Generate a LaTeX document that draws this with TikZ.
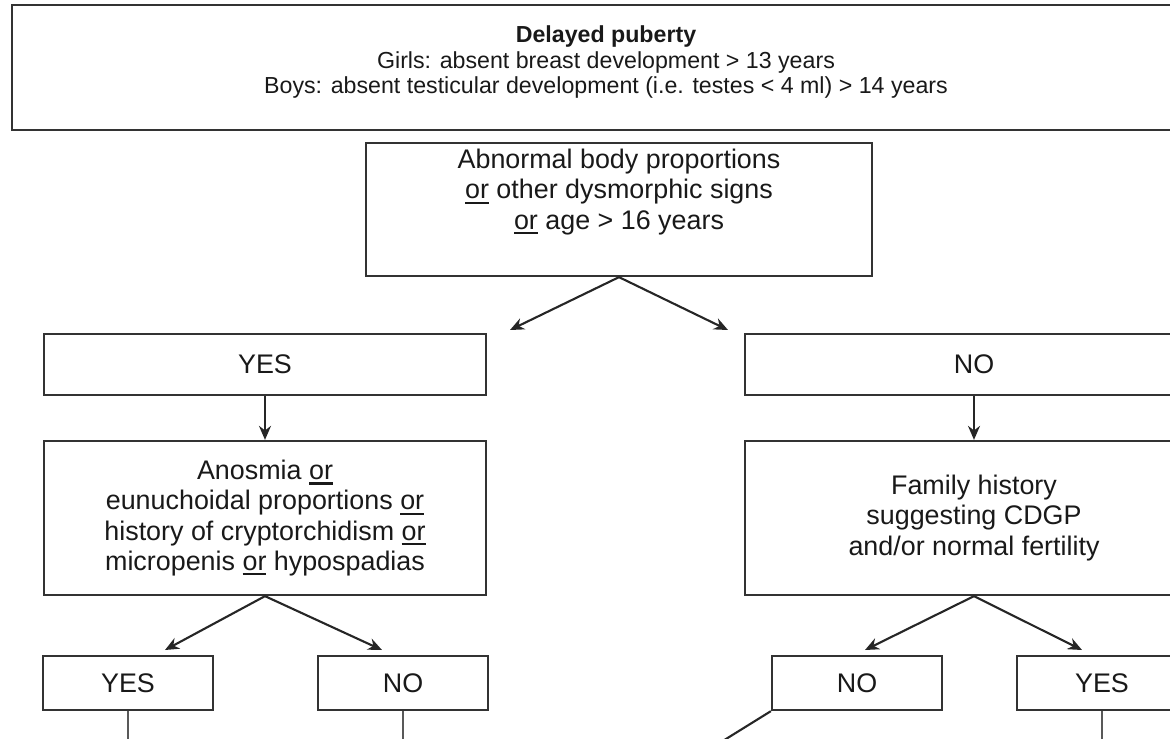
\documentclass[tikz,border=0pt]{standalone}
\usepackage{fontspec}
\setmainfont{Liberation Sans}
\usetikzlibrary{arrows.meta}
% underlined "or" with a heavier rule
\newcommand{\uor}{\setbox0\hbox{or}\leavevmode\rlap{\rule[-2.8pt]{\wd0}{1.2pt}}\box0}

\begin{document}
\begin{tikzpicture}[x=0.02cm, y=-0.02cm,
    every node/.style={font=\fontsize{15.3}{17.2}\selectfont, text=black!90},
    box/.style={draw=black!80, line width=1.3pt, inner sep=0pt, align=center},
    small/.style={box, minimum width=3.4cm, minimum height=1.08cm},
    wide/.style={box, minimum width=8.84cm},
    arr/.style={-{Stealth[length=0.28cm, width=0.24cm]}, line width=1.2pt, black!85},
    tail/.style={line width=0.9pt, black!65}]
    \useasboundingbox (0,0) rectangle (1170,738);
    \clip (0,0) rectangle (1170,738);

    % header
    \node[box, minimum width=23.76cm, minimum height=2.5cm] (top) at (606,67.5) {};
    \node[align=center, font=\fontsize{13.2}{14.3}\selectfont] (toptxt) at (606,62) {\textbf{Delayed puberty}\\
        Girls: absent breast development > 13 years\\
        Boys: absent testicular development (i.e. testes < 4 ml) > 14 years};

    \node[box, minimum width=10.12cm, minimum height=2.66cm] (abn) at (619,209.5) {};
    \node[align=center] (abntxt) at (619,192) {Abnormal body proportions\\
        \uor{} other dysmorphic signs\\ \uor{} age > 16 years};

    % second row
    \node[wide, minimum height=1.22cm] (yes) at (265,364.5) {YES};
    \node[box, minimum width=9.16cm, minimum height=1.22cm] (no) at (974,364.5) {NO};

    \node[wide, minimum height=3.08cm] (ano) at (265,518) {Anosmia \uor\\
        eunuchoidal proportions \uor\\ history of cryptorchidism \uor\\
        micropenis \uor{} hypospadias};
    \node[box, minimum width=9.16cm, minimum height=3.08cm] (fam) at (974,518) {Family history\\
        suggesting CDGP\\ and/or normal fertility};

    % third row
    \node[small] (yes1) at (128,683) {YES};
    \node[small] (no1) at (403,683) {NO};
    \node[small] (no2) at (857,683) {NO};
    \node[small] (yes2) at (1102,683) {YES};

    \coordinate (abnL) at (510,330);
    \coordinate (abnR) at (728,330);
    \coordinate (anoL) at (165,650);
    \coordinate (anoR) at (382,650);
    \coordinate (famL) at (865,650);
    \coordinate (famR) at (1082,650);
    \coordinate (no2end) at (705,752);

    \draw[arr] (abn.south) -- (abnL);
    \draw[arr] (abn.south) -- (abnR);
    \draw[arr] (yes) -- (ano);
    \draw[arr] (no) -- (fam);
    \draw[arr] (ano.south) -- (anoL);
    \draw[arr] (ano.south) -- (anoR);
    \draw[arr] (fam.south) -- (famL);
    \draw[arr] (fam.south) -- (famR);

    \draw[tail] (yes1.south) -- ++(0,40);
    \draw[tail] (no1.south) -- ++(0,40);
    \draw[tail] (yes2.south) -- ++(0,40);
    \draw[arr] (no2.south west) -- (no2end);
\end{tikzpicture}
\end{document}
